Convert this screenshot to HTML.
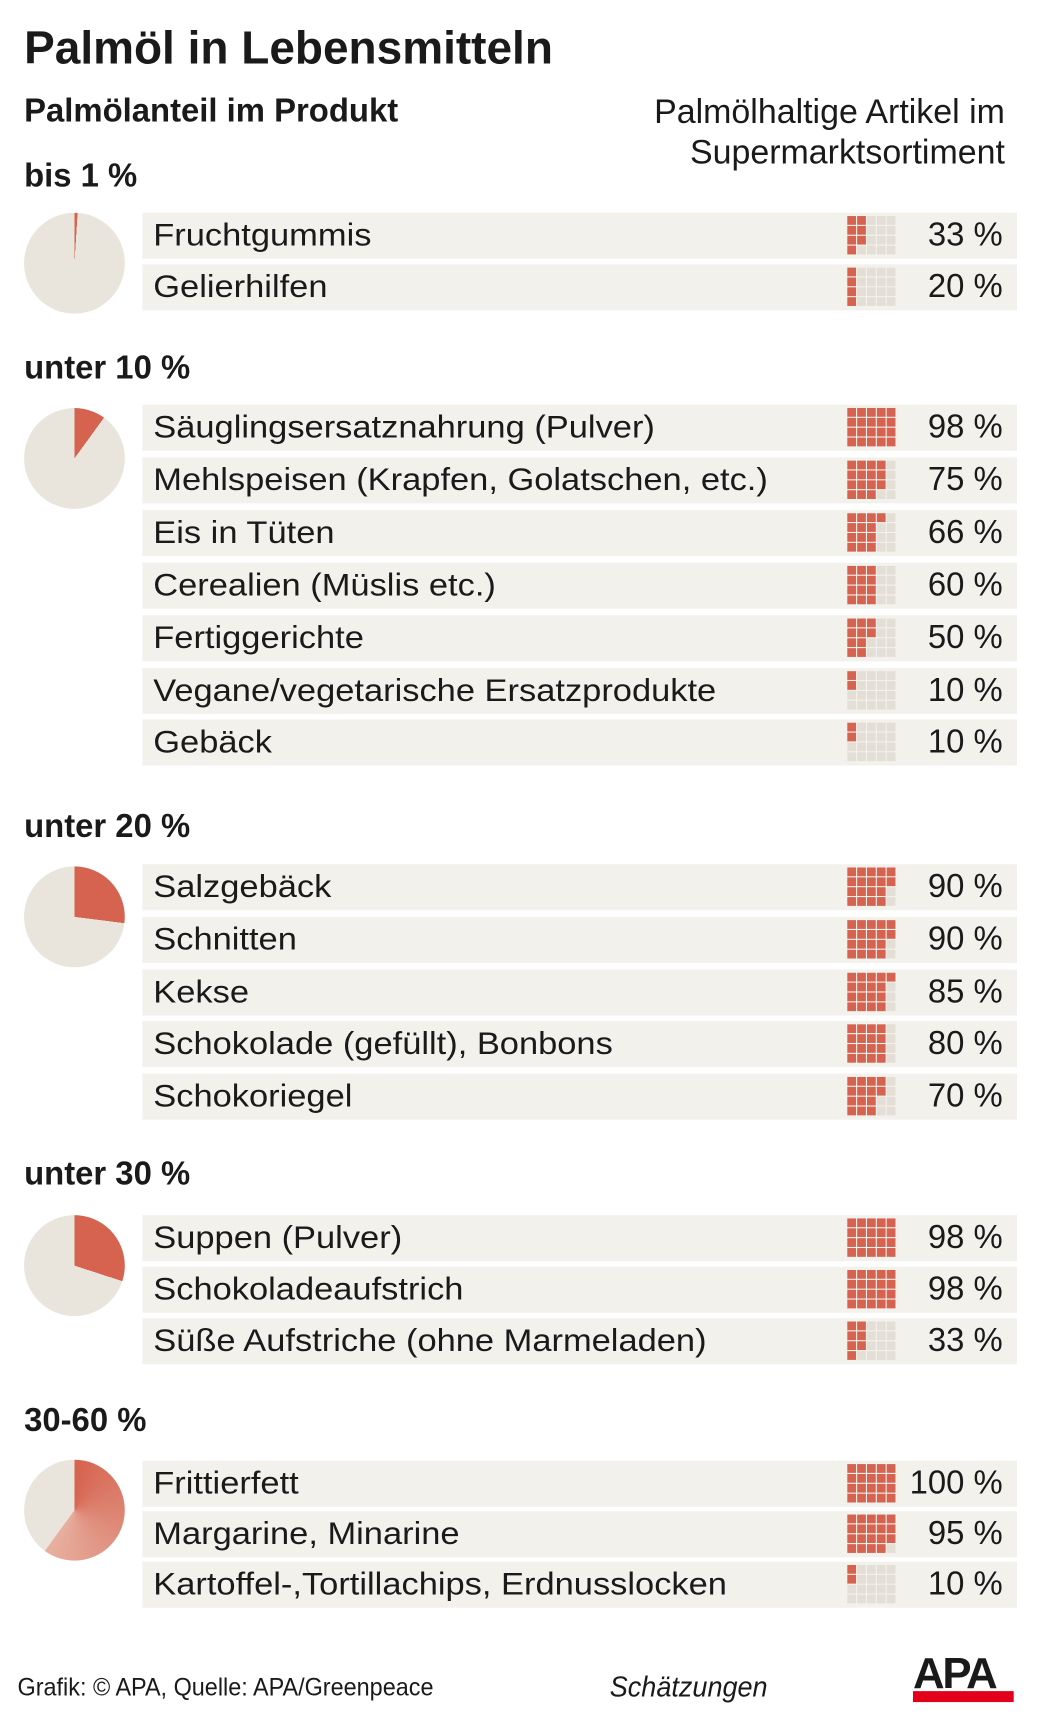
<!DOCTYPE html>
<html><head><meta charset="utf-8">
<style>
html,body{margin:0;padding:0;background:#fff;}
body{width:1040px;height:1724px;overflow:hidden;position:relative;font-family:"Liberation Sans",sans-serif;color:#1a1a1a;}
#w{position:absolute;left:0;top:0;width:950px;height:1572px;transform:scale(1.0947,1.0967);transform-origin:0 0;}
.a{position:absolute;white-space:nowrap;}
.band{position:absolute;left:130px;width:799px;height:42px;background:#f3f1ec;}
.lbl{position:absolute;left:140px;font-size:29px;line-height:42px;transform:scaleX(1.085);transform-origin:0 50%;}
.pct{position:absolute;right:34px;font-size:30px;line-height:42px;text-align:right;}
.wf{position:absolute;left:774px;width:45px;height:37px;display:grid;grid-template-columns:repeat(5,8px);grid-template-rows:repeat(4,8px);gap:1px;grid-auto-flow:column;}
.wf i{background:#e4dfd6;display:block;}
.wf i.f{background:#d5634f;}
.hd{position:absolute;left:22px;font-weight:bold;font-size:30px;}
.pie{position:absolute;left:22px;width:92px;height:92px;border-radius:50%;}
</style></head><body>
<div id="w">
<div class="a" style="left:22px;top:20px;font-size:42px;font-weight:bold;">Palmöl in Lebensmitteln</div>
<div class="a" style="left:22px;top:85px;font-size:30px;font-weight:bold;">Palmölanteil im Produkt</div>
<div class="a" style="right:32px;top:83px;font-size:31px;text-align:right;line-height:37px;">Palmölhaltige Artikel im<br>Supermarktsortiment</div>
<div id="c"></div>
<div class="a" style="left:16px;top:1525px;font-size:23px;transform:scaleX(0.93);transform-origin:0 0;">Grafik: © APA, Quelle: APA/Greenpeace</div>
<div class="a" style="left:557px;top:1523px;font-size:26px;font-style:italic;transform:scaleX(0.95);transform-origin:0 0;">Schätzungen</div>
<div class="a" style="left:834px;top:1508px;width:92px;font-size:40px;font-weight:bold;letter-spacing:-2px;line-height:36px;">APA</div>
<div class="a" style="left:834px;top:1542px;width:92px;height:10px;background:#e3001b;"></div>
</div>
<script>
var secs=[
["bis 1 %",162,240,0.01,[["Fruchtgummis","33 %",215,7],["Gelierhilfen","20 %",262,4]]],
["unter 10 %",337,418,0.1,[["Säuglingsersatznahrung (Pulver)","98 %",390,20],["Mehlspeisen (Krapfen, Golatschen, etc.)","75 %",438,15],["Eis in Tüten","66 %",486,13],["Cerealien (Müslis etc.)","60 %",534,12],["Fertiggerichte","50 %",582,10],["Vegane/vegetarische Ersatzprodukte","10 %",630,2],["Gebäck","10 %",677,2]]],
["unter 20 %",755,836,0.27,[["Salzgebäck","90 %",809,18],["Schnitten","90 %",857,18],["Kekse","85 %",905,17],["Schokolade (gefüllt), Bonbons","80 %",952,16],["Schokoriegel","70 %",1000,14]]],
["unter 30 %",1072,1154,0.3,[["Suppen (Pulver)","98 %",1129,20],["Schokoladeaufstrich","98 %",1176,20],["Süße Aufstriche (ohne Marmeladen)","33 %",1223,7]]],
["30-60 %",1297,1377,0.6,[["Frittierfett","100 %",1353,20],["Margarine, Minarine","95 %",1399,19],["Kartoffel-,Tortillachips, Erdnusslocken","10 %",1445,2]]]];
var h="";
secs.forEach(function(s){
h+='<div class="hd" style="top:'+(s[1]-18)+'px">'+s[0]+'</div>';
var d=s[3]*360;
var bg=s[3]>0.5?'conic-gradient(#d5634f 0deg,#e8b0a0 '+d+'deg,#e9e4dc '+d+'deg)':'conic-gradient(#d5634f 0deg '+d+'deg,#e9e4dc '+d+'deg)';
h+='<div class="pie" style="top:'+(s[2]-46)+'px;background:'+bg+'"></div>';
s[4].forEach(function(r){
var t=r[2]-21;
h+='<div class="band" style="top:'+t+'px"></div>';
h+='<div class="a lbl" style="top:'+t+'px">'+r[0]+'</div>';
h+='<div class="a pct" style="top:'+t+'px">'+r[1]+'</div>';
var c='';for(var i=0;i<20;i++)c+='<i'+(i<r[3]?' class="f"':'')+'></i>';
h+='<div class="wf" style="top:'+(t+3)+'px">'+c+'</div>';
});
});
document.getElementById('c').innerHTML=h;
</script>
</body></html>
